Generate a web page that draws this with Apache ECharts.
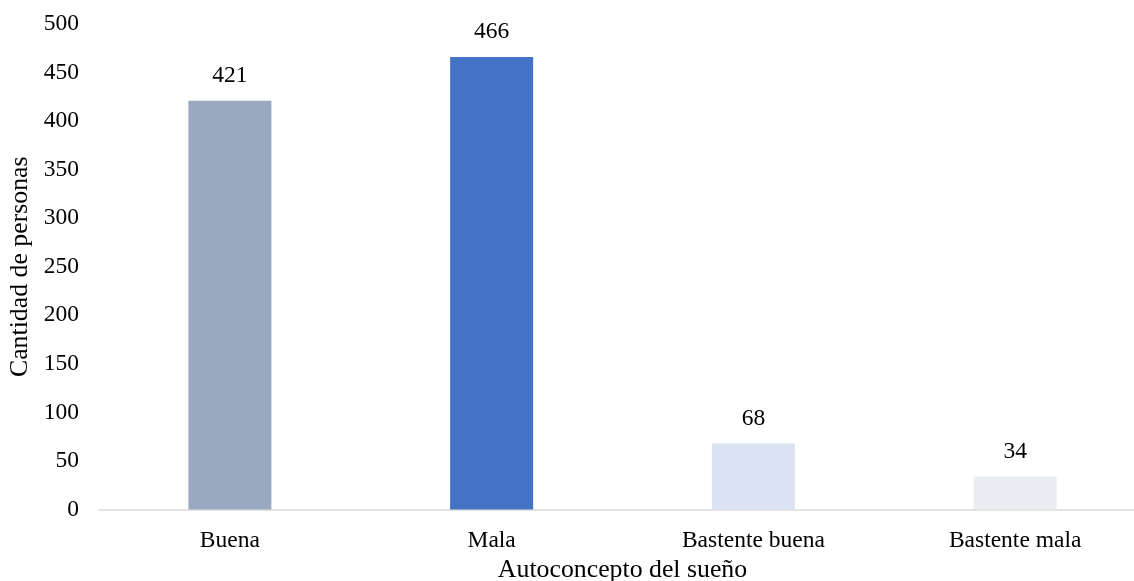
<!DOCTYPE html>
<html>
<head>
<meta charset="utf-8">
<script src="https://cdn.jsdelivr.net/npm/echarts@6/dist/echarts.min.js"></script>
<style>
  html, body { margin: 0; padding: 0; background: #ffffff; }
  #chart { width: 1134px; height: 581px; }
</style>
</head>
<body>
<div id="chart"></div>
<script>
// Autoconcepto del sueño: number of people per self-assessed sleep quality
const categories = ['Buena', 'Mala', 'Bastente buena', 'Bastente mala'];
const counts = [421, 466, 68, 34];
const barColors = ['#9AA9BF', '#4472C4', '#DAE3F3', '#E9ECF1'];
const yTicks = { min: 0, max: 500, interval: 50 };

const serif = '"Liberation Serif", "Times New Roman", serif';

const chart = echarts.init(document.getElementById('chart'), null, { renderer: 'canvas' });

chart.setOption({
  animation: false,
  backgroundColor: '#ffffff',
  // the category band runs a little past the right edge of the canvas
  grid: {
    left: 99, width: 1047, top: 24, bottom: 71.5,
    containLabel: false,
    outerBoundsMode: 'none'
  },
  xAxis: {
    type: 'category',
    data: categories,
    name: 'Autoconcepto del sueño',
    nameLocation: 'middle',
    nameGap: 45,
    nameTextStyle: { fontFamily: serif, fontSize: 25.8, color: '#000000' },
    axisLine: { show: true, lineStyle: { color: '#D9D9D9', width: 1.5 } },
    axisTick: { show: false },
    axisLabel: { fontFamily: serif, fontSize: 23.5, color: '#000000', margin: 19 }
  },
  yAxis: {
    type: 'value',
    min: yTicks.min,
    max: yTicks.max,
    interval: yTicks.interval,
    name: 'Cantidad de personas',
    nameLocation: 'middle',
    nameGap: 64,
    nameTextStyle: { fontFamily: serif, fontSize: 25.8, color: '#000000' },
    axisLine: { show: false },
    axisTick: { show: false },
    splitLine: { show: false },
    axisLabel: { fontFamily: serif, fontSize: 23.5, color: '#000000', margin: 20 }
  },
  series: [{
    type: 'bar',
    barWidth: 83,
    data: counts.map((v, i) => ({ value: v, itemStyle: { color: barColors[i] } })),
    label: {
      show: true,
      position: 'top',
      distance: 13,
      fontFamily: serif,
      fontSize: 23.5,
      color: '#000000'
    }
  }]
});
</script>
</body>
</html>
